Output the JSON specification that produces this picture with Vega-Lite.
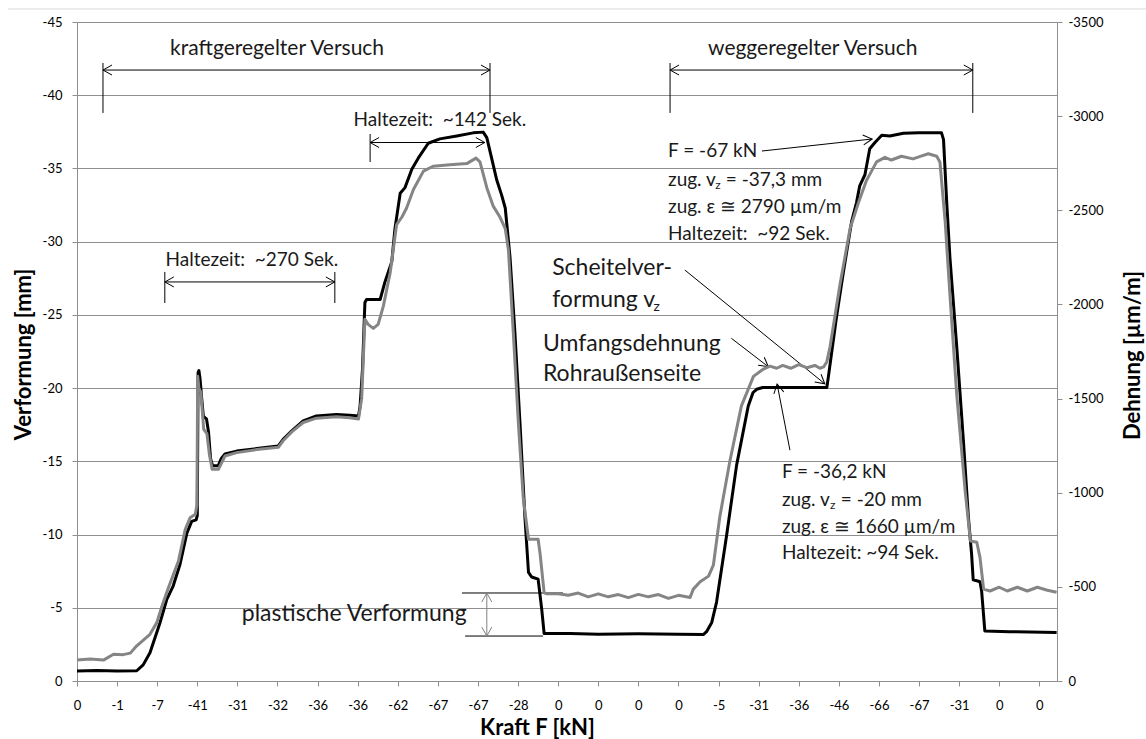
{
  "$schema": "https://vega.github.io/schema/vega-lite/v6.json",
  "width": 980,
  "height": 659,
  "autosize": "none",
  "padding": {"left": 77, "top": 22, "right": 89, "bottom": 58},
  "background": "white",
  "config": {
    "view": {"stroke": null},
    "font": "Lato",
    "axis": {
      "labelFont": "Lato",
      "labelFontSize": 13,
      "labelColor": "#000",
      "domainColor": "#8f8f8f",
      "tickColor": "#8f8f8f",
      "gridColor": "#8f8f8f",
      "tickSize": 5,
      "titleFont": "Lato",
      "titleFontWeight": "bold",
      "titleFontSize": 22,
      "titleColor": "#000"
    }
  },
  "datasets": {
    "black": [
      {"u": 0, "mm": -0.68}, {"u": 0.5, "mm": -0.72}, {"u": 1.0, "mm": -0.68}, {"u": 1.49, "mm": -0.7},
      {"u": 1.65, "mm": -1.1}, {"u": 1.82, "mm": -1.93}, {"u": 2.07, "mm": -3.98}, {"u": 2.24, "mm": -5.58},
      {"u": 2.4, "mm": -6.5}, {"u": 2.57, "mm": -7.97}, {"u": 2.74, "mm": -10.1}, {"u": 2.86, "mm": -10.9},
      {"u": 2.97, "mm": -11.0}, {"u": 3.0, "mm": -11.3}, {"u": 3.02, "mm": -21.06}, {"u": 3.04, "mm": -21.2},
      {"u": 3.07, "mm": -20.6}, {"u": 3.11, "mm": -19.3}, {"u": 3.15, "mm": -18.1}, {"u": 3.19, "mm": -17.98},
      {"u": 3.23, "mm": -17.9}, {"u": 3.28, "mm": -17.0}, {"u": 3.33, "mm": -15.2}, {"u": 3.38, "mm": -14.7},
      {"u": 3.52, "mm": -14.7}, {"u": 3.6, "mm": -15.2}, {"u": 3.69, "mm": -15.5}, {"u": 3.98, "mm": -15.7},
      {"u": 4.48, "mm": -15.87}, {"u": 5.02, "mm": -16.05}, {"u": 5.14, "mm": -16.5}, {"u": 5.35, "mm": -17.07},
      {"u": 5.64, "mm": -17.76}, {"u": 5.97, "mm": -18.1}, {"u": 6.47, "mm": -18.2}, {"u": 6.8, "mm": -18.14},
      {"u": 7.02, "mm": -18.1}, {"u": 7.06, "mm": -18.78}, {"u": 7.12, "mm": -21.3}, {"u": 7.18, "mm": -25.85},
      {"u": 7.22, "mm": -26.05}, {"u": 7.56, "mm": -26.05}, {"u": 7.68, "mm": -27.25}, {"u": 7.85, "mm": -28.63},
      {"u": 7.93, "mm": -30.9}, {"u": 8.06, "mm": -33.3}, {"u": 8.18, "mm": -33.69}, {"u": 8.35, "mm": -34.95},
      {"u": 8.51, "mm": -35.7}, {"u": 8.76, "mm": -36.72}, {"u": 9.05, "mm": -37.02}, {"u": 9.47, "mm": -37.22},
      {"u": 9.88, "mm": -37.43}, {"u": 10.13, "mm": -37.48}, {"u": 10.22, "mm": -37.1}, {"u": 10.34, "mm": -35.7},
      {"u": 10.47, "mm": -34.19}, {"u": 10.59, "mm": -33.18}, {"u": 10.68, "mm": -32.3}, {"u": 10.8, "mm": -28.9},
      {"u": 10.92, "mm": -23.83}, {"u": 11.05, "mm": -17.5}, {"u": 11.17, "mm": -11.2}, {"u": 11.26, "mm": -7.41},
      {"u": 11.34, "mm": -7.1}, {"u": 11.5, "mm": -6.96}, {"u": 11.59, "mm": -4.89}, {"u": 11.65, "mm": -3.24},
      {"u": 12.3, "mm": -3.24}, {"u": 13.0, "mm": -3.2}, {"u": 14.0, "mm": -3.22}, {"u": 15.0, "mm": -3.2},
      {"u": 15.62, "mm": -3.17}, {"u": 15.7, "mm": -3.37}, {"u": 15.83, "mm": -4.0}, {"u": 15.95, "mm": -5.39},
      {"u": 16.2, "mm": -9.94}, {"u": 16.45, "mm": -14.74}, {"u": 16.74, "mm": -18.78}, {"u": 16.86, "mm": -19.7},
      {"u": 16.95, "mm": -19.92}, {"u": 17.1, "mm": -20.04}, {"u": 18.7, "mm": -20.04}, {"u": 18.74, "mm": -20.8},
      {"u": 18.94, "mm": -24.84}, {"u": 19.11, "mm": -27.87}, {"u": 19.32, "mm": -31.41}, {"u": 19.44, "mm": -32.67},
      {"u": 19.52, "mm": -33.81}, {"u": 19.65, "mm": -34.57}, {"u": 19.77, "mm": -36.34}, {"u": 19.9, "mm": -36.77},
      {"u": 20.07, "mm": -37.27}, {"u": 20.27, "mm": -37.22}, {"u": 20.61, "mm": -37.4}, {"u": 21.0, "mm": -37.43},
      {"u": 21.56, "mm": -37.43}, {"u": 21.61, "mm": -36.97}, {"u": 21.69, "mm": -32.67}, {"u": 21.77, "mm": -28.9},
      {"u": 21.94, "mm": -22.82}, {"u": 22.11, "mm": -16.25}, {"u": 22.23, "mm": -11.2}, {"u": 22.31, "mm": -8.67},
      {"u": 22.35, "mm": -6.91}, {"u": 22.52, "mm": -6.78}, {"u": 22.56, "mm": -6.15}, {"u": 22.64, "mm": -3.42},
      {"u": 23.26, "mm": -3.37}, {"u": 24.43, "mm": -3.32}
    ],
    "gray": [
      {"u": 0, "eps": -111}, {"u": 0.33, "eps": -117}, {"u": 0.66, "eps": -111}, {"u": 0.91, "eps": -142},
      {"u": 1.15, "eps": -140}, {"u": 1.33, "eps": -148}, {"u": 1.49, "eps": -187}, {"u": 1.82, "eps": -248},
      {"u": 1.99, "eps": -310}, {"u": 2.12, "eps": -398}, {"u": 2.28, "eps": -495}, {"u": 2.53, "eps": -637},
      {"u": 2.7, "eps": -806}, {"u": 2.82, "eps": -867}, {"u": 2.95, "eps": -885}, {"u": 2.99, "eps": -933},
      {"u": 3.01, "eps": -1618}, {"u": 3.04, "eps": -1556}, {"u": 3.09, "eps": -1532}, {"u": 3.16, "eps": -1337},
      {"u": 3.24, "eps": -1314}, {"u": 3.3, "eps": -1206}, {"u": 3.37, "eps": -1125}, {"u": 3.53, "eps": -1125},
      {"u": 3.69, "eps": -1195}, {"u": 3.98, "eps": -1213}, {"u": 4.48, "eps": -1229}, {"u": 5.02, "eps": -1241},
      {"u": 5.14, "eps": -1276}, {"u": 5.35, "eps": -1322}, {"u": 5.64, "eps": -1373}, {"u": 5.97, "eps": -1396},
      {"u": 6.47, "eps": -1404}, {"u": 6.8, "eps": -1398}, {"u": 7.02, "eps": -1392}, {"u": 7.1, "eps": -1501},
      {"u": 7.18, "eps": -1921}, {"u": 7.26, "eps": -1894}, {"u": 7.39, "eps": -1873}, {"u": 7.51, "eps": -1894},
      {"u": 7.64, "eps": -1991}, {"u": 7.81, "eps": -2168}, {"u": 7.97, "eps": -2424}, {"u": 8.1, "eps": -2463},
      {"u": 8.22, "eps": -2512}, {"u": 8.39, "eps": -2610}, {"u": 8.64, "eps": -2708}, {"u": 8.88, "eps": -2734},
      {"u": 9.3, "eps": -2742}, {"u": 9.72, "eps": -2748}, {"u": 9.95, "eps": -2777}, {"u": 10.05, "eps": -2757},
      {"u": 10.22, "eps": -2620}, {"u": 10.38, "eps": -2522}, {"u": 10.55, "eps": -2463}, {"u": 10.68, "eps": -2403},
      {"u": 10.76, "eps": -2287}, {"u": 10.88, "eps": -1853}, {"u": 11.01, "eps": -1361}, {"u": 11.13, "eps": -969},
      {"u": 11.26, "eps": -753}, {"u": 11.5, "eps": -753}, {"u": 11.55, "eps": -674}, {"u": 11.65, "eps": -468},
      {"u": 11.72, "eps": -463}, {"u": 12.0, "eps": -463}, {"u": 12.25, "eps": -455}, {"u": 12.5, "eps": -467},
      {"u": 12.75, "eps": -447}, {"u": 13.0, "eps": -463}, {"u": 13.25, "eps": -447}, {"u": 13.5, "eps": -459},
      {"u": 13.75, "eps": -443}, {"u": 14.0, "eps": -460}, {"u": 14.25, "eps": -447}, {"u": 14.5, "eps": -459},
      {"u": 14.75, "eps": -439}, {"u": 15.0, "eps": -455}, {"u": 15.29, "eps": -443}, {"u": 15.37, "eps": -488},
      {"u": 15.54, "eps": -527}, {"u": 15.75, "eps": -557}, {"u": 15.87, "eps": -615}, {"u": 16.03, "eps": -871},
      {"u": 16.28, "eps": -1166}, {"u": 16.57, "eps": -1461}, {"u": 16.87, "eps": -1618}, {"u": 17.12, "eps": -1657},
      {"u": 17.28, "eps": -1672}, {"u": 17.45, "eps": -1661}, {"u": 17.6, "eps": -1676}, {"u": 17.8, "eps": -1661},
      {"u": 18.0, "eps": -1680}, {"u": 18.2, "eps": -1664}, {"u": 18.4, "eps": -1676}, {"u": 18.53, "eps": -1661},
      {"u": 18.62, "eps": -1668}, {"u": 18.7, "eps": -1696}, {"u": 18.78, "eps": -1775}, {"u": 19.03, "eps": -2108},
      {"u": 19.28, "eps": -2403}, {"u": 19.49, "eps": -2541}, {"u": 19.69, "eps": -2659}, {"u": 19.94, "eps": -2757},
      {"u": 20.15, "eps": -2781}, {"u": 20.31, "eps": -2767}, {"u": 20.56, "eps": -2787}, {"u": 20.85, "eps": -2773},
      {"u": 21.05, "eps": -2788}, {"u": 21.23, "eps": -2800}, {"u": 21.44, "eps": -2787}, {"u": 21.52, "eps": -2757},
      {"u": 21.65, "eps": -2443}, {"u": 21.77, "eps": -2050}, {"u": 21.94, "eps": -1520}, {"u": 22.15, "eps": -1009},
      {"u": 22.28, "eps": -744}, {"u": 22.44, "eps": -737}, {"u": 22.52, "eps": -655}, {"u": 22.61, "eps": -488},
      {"u": 22.77, "eps": -478}, {"u": 23.0, "eps": -498}, {"u": 23.2, "eps": -478}, {"u": 23.45, "eps": -498},
      {"u": 23.7, "eps": -478}, {"u": 23.95, "eps": -498}, {"u": 24.2, "eps": -482}, {"u": 24.43, "eps": -471}
    ],
    "headers": [
      {"u": 4.99, "mm": -43.16, "t": "kraftgeregelter Versuch"},
      {"u": 18.35, "mm": -43.16, "t": "weggeregelter Versuch"}
    ],
    "holds": [
      {"u": 4.36, "mm": -28.75, "t": "Haltezeit:\u00a0 ~270 Sek."},
      {"u": 9.05, "mm": -38.31, "t": "Haltezeit:\u00a0 ~142 Sek."}
    ],
    "notes": [
      {"u": 14.74, "mm": -36.19, "t": "F = -67 kN"},
      {"u": 14.74, "mm": -34.21, "t": "zug. v"},
      {"u": 16.18, "mm": -34.21, "t": "= -37,3 mm"},
      {"u": 14.74, "mm": -32.37, "t": "zug. ε ≅ 2790 µm/m"},
      {"u": 14.74, "mm": -30.52, "t": "Haltezeit:\u00a0 ~92 Sek."},
      {"u": 17.58, "mm": -14.27, "t": "F = -36,2 kN"},
      {"u": 17.58, "mm": -12.36, "t": "zug. v"},
      {"u": 19.05, "mm": -12.36, "t": "= -20 mm"},
      {"u": 17.58, "mm": -10.52, "t": "zug. ε ≅ 1660 µm/m"},
      {"u": 17.58, "mm": -8.74, "t": "Haltezeit: ~94 Sek."}
    ],
    "labels": [
      {"u": 11.85, "mm": -28.2, "t": "Scheitelver-"},
      {"u": 11.85, "mm": -26.02, "t": "formung v"},
      {"u": 11.62, "mm": -23.01, "t": "Umfangsdehnung"},
      {"u": 11.62, "mm": -20.96, "t": "Rohraußenseite"},
      {"u": 4.11, "mm": -4.58, "t": "plastische Verformung"}
    ],
    "subs": [
      {"u": 15.92, "mm": -33.85, "t": "z"},
      {"u": 18.78, "mm": -12.0, "t": "z"}
    ],
    "subsBig": [
      {"u": 14.38, "mm": -25.55, "t": "z"}
    ],
    "lines": [
      {"u": 0.648, "mm": -41.72, "u2": 10.3, "mm2": -41.72},
      {"u": 0.648, "mm": -42.2, "u2": 0.648, "mm2": -38.79},
      {"u": 10.3, "mm": -42.2, "u2": 10.3, "mm2": -38.79},
      {"u": 14.79, "mm": -41.72, "u2": 22.34, "mm2": -41.72},
      {"u": 14.79, "mm": -42.2, "u2": 14.79, "mm2": -38.79},
      {"u": 22.34, "mm": -42.2, "u2": 22.34, "mm2": -38.79},
      {"u": 2.19, "mm": -27.25, "u2": 6.43, "mm2": -27.25},
      {"u": 2.19, "mm": -27.93, "u2": 2.19, "mm2": -25.81},
      {"u": 6.43, "mm": -27.93, "u2": 6.43, "mm2": -25.81},
      {"u": 7.31, "mm": -36.77, "u2": 10.17, "mm2": -36.77},
      {"u": 7.31, "mm": -37.35, "u2": 7.31, "mm2": -35.44},
      {"u": 17.08, "mm": -36.19, "u2": 19.83, "mm2": -37.01},
      {"u": 15.16, "mm": -28.06, "u2": 18.65, "mm2": -20.29},
      {"u": 16.32, "mm": -23.4, "u2": 17.24, "mm2": -21.46},
      {"u": 17.78, "mm": -15.76, "u2": 17.46, "mm2": -20.28},
      {"u": 9.6, "mm": -6.01, "u2": 12.12, "mm2": -6.01},
      {"u": 9.68, "mm": -3.07, "u2": 11.62, "mm2": -3.07}
    ],
    "grayLines": [
      {"u": 10.22, "mm": -6.01, "u2": 10.22, "mm2": -3.07}
    ],
    "frame": [
      {"u": -1.72, "mm": -45.89, "u2": 26.66, "mm2": -45.89}
    ],
    "heads": [
      {"u": 0.648, "mm": -41.72, "ang": 0},
      {"u": 10.3, "mm": -41.72, "ang": 180},
      {"u": 14.79, "mm": -41.72, "ang": 0},
      {"u": 22.34, "mm": -41.72, "ang": 180},
      {"u": 2.19, "mm": -27.25, "ang": 0},
      {"u": 6.43, "mm": -27.25, "ang": 180},
      {"u": 7.31, "mm": -36.77, "ang": 0},
      {"u": 10.17, "mm": -36.77, "ang": 180},
      {"u": 19.83, "mm": -37.01, "ang": 173.8},
      {"u": 18.65, "mm": -20.29, "ang": -140.6},
      {"u": 17.24, "mm": -21.46, "ang": -142.2},
      {"u": 17.46, "mm": -20.28, "ang": 79.2}
    ],
    "grayHeads": [
      {"u": 10.22, "mm": -6.01, "ang": 90},
      {"u": 10.22, "mm": -3.07, "ang": -90}
    ]
  },
  "layer": [
    {
      "layer": [
        {
          "data": {"name": "black"},
          "mark": {"type": "line", "color": "#000000", "strokeWidth": 3, "strokeJoin": "round"},
          "encoding": {
            "x": {
              "field": "u", "type": "quantitative",
              "scale": {"domain": [0, 24.44], "nice": false, "zero": false},
              "axis": {
                "orient": "bottom",
                "values": [0,1,2,3,4,5,6,7,8,9,10,11,12,13,14,15,16,17,18,19,20,21,22,23,24],
                "labelExpr": "['0','-1','-7','-41','-31','-32','-36','-36','-62','-67','-67','-28','0','0','0','0','-5','-31','-36','-46','-66','-67','-31','0','0'][datum.value]",
                "grid": false,
                "labelPadding": 13,
                "labelFlush": false,
                "labelOverlap": false,
                "title": "Kraft F [kN]",
                "titleX": 460,
                "titleY": 46,
                "titleBaseline": "middle",
                "titleAlign": "center"
              }
            },
            "y": {
              "field": "mm", "type": "quantitative",
              "scale": {"domain": [0, -45], "nice": false, "zero": false},
              "axis": {
                "orient": "left",
                "values": [0,-5,-10,-15,-20,-25,-30,-35,-40,-45],
                "labelExpr": "datum.value == 0 ? '0' : '-' + abs(datum.value)",
                "grid": true,
                "labelPadding": 10,
                "labelFlush": false,
                "title": "Verformung [mm]",
                "titleAngle": 270,
                "titleX": -54,
                "titleY": 332,
                "titleBaseline": "middle",
                "titleAlign": "center"
              }
            }
          }
        },
        {
          "data": {"name": "frame"},
          "mark": {"type": "rule", "color": "#d9d9d9", "strokeWidth": 1, "clip": false},
          "encoding": {
            "x": {"field": "u", "type": "quantitative"},
            "x2": {"field": "u2"},
            "y": {"field": "mm", "type": "quantitative"},
            "y2": {"field": "mm2"}
          }
        },
        {
          "data": {"name": "lines"},
          "mark": {"type": "rule", "color": "#000000", "strokeWidth": 1},
          "encoding": {
            "x": {"field": "u", "type": "quantitative"},
            "x2": {"field": "u2"},
            "y": {"field": "mm", "type": "quantitative"},
            "y2": {"field": "mm2"}
          }
        },
        {
          "data": {"name": "grayLines"},
          "mark": {"type": "rule", "color": "#808080", "strokeWidth": 1},
          "encoding": {
            "x": {"field": "u", "type": "quantitative"},
            "x2": {"field": "u2"},
            "y": {"field": "mm", "type": "quantitative"},
            "y2": {"field": "mm2"}
          }
        },
        {
          "data": {"name": "heads"},
          "mark": {"type": "point", "shape": "M1.8,-1L0,0L1.8,1", "filled": false, "stroke": "#000000", "strokeWidth": 1, "size": 100, "opacity": 1},
          "encoding": {
            "x": {"field": "u", "type": "quantitative"},
            "y": {"field": "mm", "type": "quantitative"},
            "angle": {"field": "ang", "type": "quantitative", "scale": null}
          }
        },
        {
          "data": {"name": "grayHeads"},
          "mark": {"type": "point", "shape": "M1.8,-1L0,0L1.8,1", "filled": false, "stroke": "#808080", "strokeWidth": 1, "size": 100, "opacity": 1},
          "encoding": {
            "x": {"field": "u", "type": "quantitative"},
            "y": {"field": "mm", "type": "quantitative"},
            "angle": {"field": "ang", "type": "quantitative", "scale": null}
          }
        },
        {
          "data": {"name": "headers"},
          "mark": {"type": "text", "font": "Lato", "fontSize": 21, "align": "center", "baseline": "middle", "color": "#1a1a1a"},
          "encoding": {
            "x": {"field": "u", "type": "quantitative"},
            "y": {"field": "mm", "type": "quantitative"},
            "text": {"field": "t"}
          }
        },
        {
          "data": {"name": "holds"},
          "mark": {"type": "text", "font": "Lato", "fontSize": 19, "align": "center", "baseline": "middle", "color": "#1a1a1a"},
          "encoding": {
            "x": {"field": "u", "type": "quantitative"},
            "y": {"field": "mm", "type": "quantitative"},
            "text": {"field": "t"}
          }
        },
        {
          "data": {"name": "notes"},
          "mark": {"type": "text", "font": "Lato", "fontSize": 19, "align": "left", "baseline": "middle", "color": "#1a1a1a"},
          "encoding": {
            "x": {"field": "u", "type": "quantitative"},
            "y": {"field": "mm", "type": "quantitative"},
            "text": {"field": "t"}
          }
        },
        {
          "data": {"name": "subs"},
          "mark": {"type": "text", "font": "Lato", "fontSize": 12, "align": "left", "baseline": "middle", "color": "#1a1a1a"},
          "encoding": {
            "x": {"field": "u", "type": "quantitative"},
            "y": {"field": "mm", "type": "quantitative"},
            "text": {"field": "t"}
          }
        },
        {
          "data": {"name": "labels"},
          "mark": {"type": "text", "font": "Lato", "fontSize": 23, "align": "left", "baseline": "middle", "color": "#1a1a1a"},
          "encoding": {
            "x": {"field": "u", "type": "quantitative"},
            "y": {"field": "mm", "type": "quantitative"},
            "text": {"field": "t"}
          }
        },
        {
          "data": {"name": "subsBig"},
          "mark": {"type": "text", "font": "Lato", "fontSize": 14, "align": "left", "baseline": "middle", "color": "#1a1a1a"},
          "encoding": {
            "x": {"field": "u", "type": "quantitative"},
            "y": {"field": "mm", "type": "quantitative"},
            "text": {"field": "t"}
          }
        }
      ]
    },
    {
      "data": {"name": "gray"},
      "mark": {"type": "line", "color": "#858585", "strokeWidth": 3, "strokeJoin": "round"},
      "encoding": {
        "x": {"field": "u", "type": "quantitative"},
        "y": {
          "field": "eps", "type": "quantitative",
          "scale": {"domain": [0, -3500], "nice": false, "zero": false},
          "axis": {
            "orient": "right",
            "values": [0,-500,-1000,-1500,-2000,-2500,-3000,-3500],
            "labelExpr": "datum.value == 0 ? '0' : '-' + abs(datum.value)",
            "grid": false,
            "labelPadding": 6,
            "labelFlush": false,
            "title": "Dehnung [µm/m]",
            "titleAngle": 270,
            "titleX": 75,
            "titleY": 333,
            "titleBaseline": "middle",
            "titleAlign": "center"
          }
        }
      }
    }
  ],
  "resolve": {"scale": {"y": "independent"}, "axis": {"y": "independent"}}
}
